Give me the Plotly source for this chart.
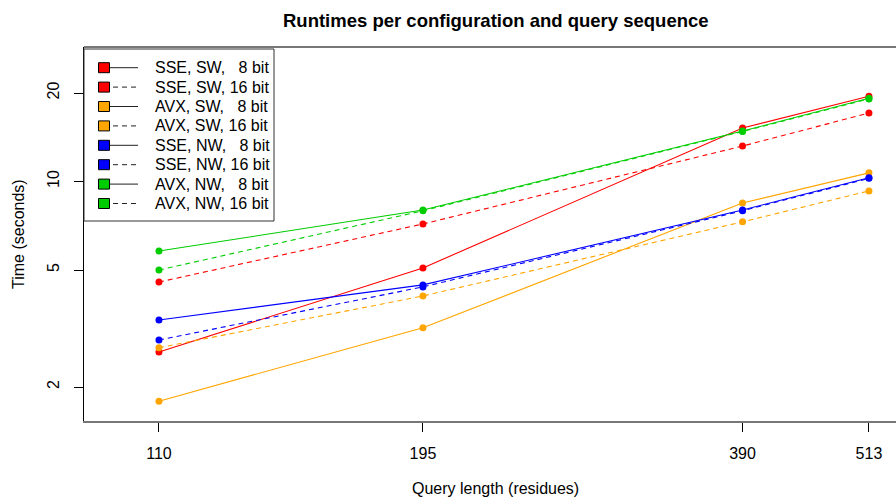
import plotly.graph_objects as go

# Query lengths (residues) on the x axis
query_lengths = [110, 195, 390, 513]

# Runtimes in seconds per configuration
sse_sw_8 = [2.63, 5.08, 15.2, 19.5]
sse_sw_16 = [4.55, 7.17, 13.2, 17.1]
avx_sw_8 = [1.79, 3.18, 8.45, 10.7]
avx_sw_16 = [2.72, 4.08, 7.29, 9.29]
sse_nw_8 = [3.38, 4.45, 8.0, 10.3]
sse_nw_16 = [2.89, 4.38, 7.95, 10.25]
avx_nw_8 = [5.80, 8.0, 14.85, 19.2]
avx_nw_16 = [5.00, 7.95, 14.8, 19.1]

NB = "\u00a0"
series_labels = [
    f"SSE, SW,{NB*3}8 bit",
    f"SSE, SW,{NB}16 bit",
    f"AVX, SW,{NB*3}8 bit",
    f"AVX, SW,{NB}16 bit",
    f"SSE, NW,{NB*3}8 bit",
    f"SSE, NW,{NB}16 bit",
    f"AVX, NW,{NB*3}8 bit",
    f"AVX, NW,{NB}16 bit",
]
series_values = [sse_sw_8, sse_sw_16, avx_sw_8, avx_sw_16,
                 sse_nw_8, sse_nw_16, avx_nw_8, avx_nw_16]
series_colors = ["#FF0000", "#FF0000", "#FFA500", "#FFA500",
                 "#0000FF", "#0000FF", "#00CD00", "#00CD00"]
series_dash = ["solid", "5px,4px"] * 4

y_ticks = [2, 5, 10, 20]

W, H = 896, 497
ML, MR, MT, MB = 84, 0, 47, 76
PW, PH = W - ML - MR, H - MT - MB
FONT = "Liberation Sans, Arial, Helvetica, sans-serif"


def px_x(x):
    return (x - ML) / PW


def px_y(y):
    return (H - MB - y) / PH


fig = go.Figure()

for name, vals, col, dash in zip(series_labels, series_values, series_colors, series_dash):
    fig.add_trace(go.Scatter(
        x=query_lengths, y=vals, name=name, mode="lines+markers",
        line=dict(color=col, width=1.1, dash=dash),
        marker=dict(color=col, size=7, line=dict(width=0)),
        showlegend=False, hoverinfo="x+y+name",
    ))

shapes = []
annotations = []

# top border of the plotting box
shapes.append(dict(type="line", xref="paper", yref="paper", x0=0, x1=1, y0=1, y1=1,
                   line=dict(color="#777777", width=2)))

# legend box
lx0, lx1, ly0, ly1 = 84, 274, 49, 221
shapes.append(dict(type="rect", xref="paper", yref="paper",
                   x0=px_x(lx0), x1=px_x(lx1), y0=px_y(ly1), y1=px_y(ly0),
                   line=dict(color="#333333", width=1), fillcolor="white", layer="above"))

row_y0, row_dy = 67.7, 19.4
for i, (name, col, dash) in enumerate(zip(series_labels, series_colors, series_dash)):
    cy = row_y0 + i * row_dy
    shapes.append(dict(type="line", xref="paper", yref="paper",
                       x0=px_x(104), x1=px_x(138), y0=px_y(cy), y1=px_y(cy),
                       line=dict(color="#222222", width=1, dash=dash), layer="above"))
    shapes.append(dict(type="rect", xref="paper", yref="paper",
                       x0=px_x(98.5), x1=px_x(109.5), y0=px_y(cy + 5), y1=px_y(cy - 5),
                       line=dict(color="black", width=1), fillcolor=col, layer="above"))
    annotations.append(dict(xref="paper", yref="paper", x=px_x(153), y=px_y(cy),
                            text=name, showarrow=False, xanchor="left", yanchor="middle",
                            font=dict(family=FONT, size=16, color="black")))

# titles
annotations.append(dict(xref="paper", yref="paper", x=px_x(495.5), y=px_y(20.5),
                        text="<b>Runtimes per configuration and query sequence</b>",
                        showarrow=False, xanchor="center", yanchor="middle",
                        font=dict(family=FONT, size=18.5, color="black")))
annotations.append(dict(xref="paper", yref="paper", x=px_x(495.5), y=px_y(488),
                        text="Query length (residues)", showarrow=False,
                        xanchor="center", yanchor="middle",
                        font=dict(family=FONT, size=16, color="black")))
annotations.append(dict(xref="paper", yref="paper", x=px_x(18), y=px_y(234),
                        text="Time (seconds)", showarrow=False, textangle=-90,
                        xanchor="center", yanchor="middle",
                        font=dict(family=FONT, size=16, color="black")))

fig.update_layout(
    width=W, height=H,
    margin=dict(l=ML, r=MR, t=MT, b=MB, pad=0),
    paper_bgcolor="white", plot_bgcolor="white",
    font=dict(family=FONT, size=16, color="black"),
    shapes=shapes, annotations=annotations,
    xaxis=dict(type="log", range=[1.9708, 2.7356], tickvals=query_lengths,
               ticktext=[str(v) for v in query_lengths],
               ticks="outside", ticklen=9, tickcolor="black", tickwidth=1,
               showline=True, linecolor="#777777", linewidth=2,
               showgrid=False, zeroline=False, ticklabelstandoff=8,
               tickfont=dict(family=FONT, size=16, color="black")),
    yaxis=dict(type="log", range=[0.1854, 1.4575], tickvals=y_ticks,
               ticktext=[str(v) for v in y_ticks], tickangle=-90,
               ticks="outside", ticklen=9, tickcolor="black", tickwidth=1,
               showline=True, linecolor="black", linewidth=1,
               showgrid=False, zeroline=False, ticklabelstandoff=9,
               tickfont=dict(family=FONT, size=16, color="black")),
    showlegend=False,
)

fig.write_html("out.html")
